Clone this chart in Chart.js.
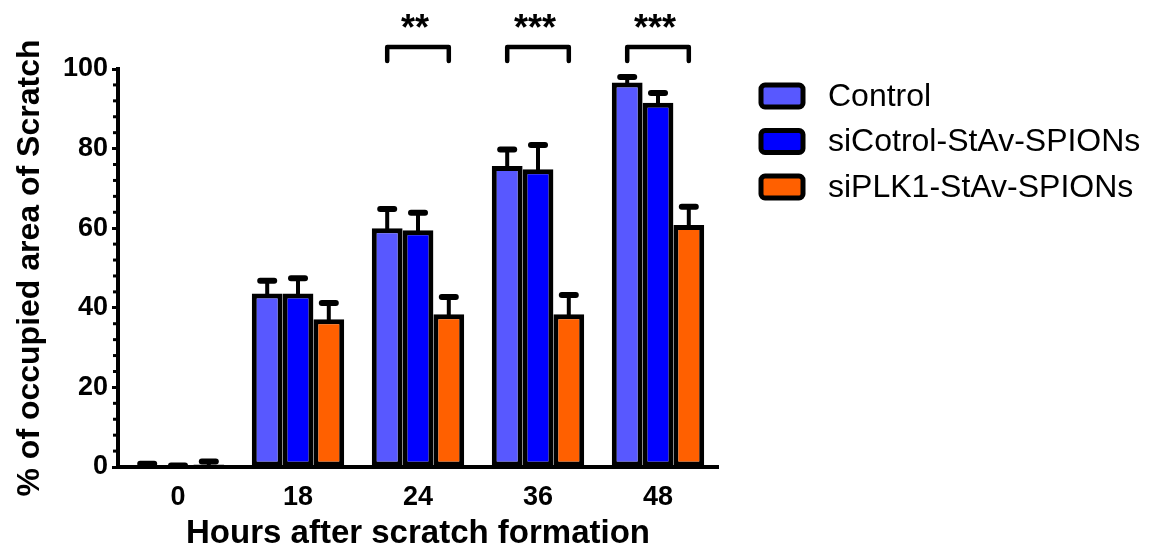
<!DOCTYPE html>
<html>
<head>
<meta charset="utf-8">
<script src="https://cdn.jsdelivr.net/npm/chart.js@4.4.1/dist/chart.umd.min.js"></script>
<style>
  body { margin: 0; background: #fff; }
  #wrap { width: 1161px; height: 551px; position: relative; }
</style>
</head>
<body>
<div id="wrap"><canvas id="scratchChart"></canvas></div>
<script>
// values
const hours = ["0", "18", "24", "36", "48"];
const controlMean = [0.4, 43.6, 60.0, 75.6, 96.6];
const controlErr = [0.4, 3.2, 4.8, 4.2, 1.4];
const siControlMean = [0.2, 43.6, 59.5, 74.8, 91.5];
const siControlErr = [0.15, 3.8, 4.4, 6.1, 2.5];
const siPlkMean = [0.6, 37.1, 38.4, 38.4, 60.8];
const siPlkErr = [0.8, 4.1, 4.3, 4.8, 4.6];
const sigLabels = ["", "", "**", "***", "***"];
const yTicks = [0, 20, 40, 60, 80, 100];

const FONT = "'Liberation Sans', Arial, sans-serif";

// error bars, minor ticks, significance brackets and the legend
const extras = {
  id: "extras",
  afterDatasetsDraw(chart) {
    const ctx = chart.ctx;
    const y = chart.scales.y;
    ctx.save();
    ctx.strokeStyle = "#000";
    ctx.lineCap = "round";
    chart.data.datasets.forEach((ds, i) => {
      const meta = chart.getDatasetMeta(i);
      meta.data.forEach((bar, j) => {
        const top = y.getPixelForValue(ds.data[j] + ds.errors[j]);
        ctx.lineWidth = 4;
        ctx.beginPath();
        ctx.moveTo(bar.x, bar.y);
        ctx.lineTo(bar.x, top);
        ctx.stroke();
        ctx.lineWidth = 6;
        ctx.beginPath();
        ctx.moveTo(bar.x - 7, top);
        ctx.lineTo(bar.x + 7, top);
        ctx.stroke();
      });
    });
    ctx.restore();
  },
  afterDraw(chart) {
    const ctx = chart.ctx;
    const y = chart.scales.y;
    const x0 = chart.chartArea.left;
    ctx.save();
    // minor ticks every 4 units
    ctx.strokeStyle = "#000";
    ctx.lineWidth = 3;
    for (let v = 4; v < 100; v += 4) {
      if (v % 20 === 0) continue;
      const py = y.getPixelForValue(v);
      ctx.beginPath();
      ctx.moveTo(x0 - 5, py);
      ctx.lineTo(x0, py);
      ctx.stroke();
    }
    // brackets
    const first = chart.getDatasetMeta(0);
    const last = chart.getDatasetMeta(2);
    const yTop = y.getPixelForValue(105.5);
    const yLeg = y.getPixelForValue(102.0);
    ctx.lineWidth = 4.5;
    ctx.lineCap = "round";
    ctx.lineJoin = "round";
    ctx.fillStyle = "#000";
    ctx.font = "bold 36px " + FONT;
    ctx.textAlign = "center";
    ctx.textBaseline = "alphabetic";
    sigLabels.forEach((lab, j) => {
      if (!lab) return;
      const xa = first.data[j].x;
      const xb = last.data[j].x;
      ctx.beginPath();
      ctx.moveTo(xa, yLeg);
      ctx.lineTo(xa, yTop);
      ctx.lineTo(xb, yTop);
      ctx.lineTo(xb, yLeg);
      ctx.stroke();
      ctx.fillText(lab, (xa + xb) / 2 - 3, y.getPixelForValue(107.2));
    });
    // legend
    const lx = chart.chartArea.right + 41;
    ctx.font = "32px " + FONT;
    ctx.textAlign = "left";
    ctx.textBaseline = "middle";
    chart.data.datasets.forEach((ds, i) => {
      const cy = 96 + i * 45.5;
      ctx.fillStyle = ds.backgroundColor;
      ctx.beginPath();
      ctx.roundRect(lx + 2, cy - 11, 42, 22, 4);
      ctx.fill();
      ctx.lineWidth = 5;
      ctx.strokeStyle = "#000";
      ctx.stroke();
      ctx.fillStyle = "#000";
      ctx.fillText(ds.label, lx + 69, cy + 1);
    });
    ctx.restore();
  }
};

const ctx = document.getElementById("scratchChart");

const scratchChart = new Chart(ctx, {
  type: "bar",
  data: {
    labels: hours,
    datasets: [
      { label: "Control", data: controlMean, errors: controlErr, backgroundColor: "#5858FF" },
      { label: "siCotrol-StAv-SPIONs", data: siControlMean, errors: siControlErr, backgroundColor: "#0000FF" },
      { label: "siPLK1-StAv-SPIONs", data: siPlkMean, errors: siPlkErr, backgroundColor: "#FF6000" }
    ].map(ds => ({
      ...ds,
      borderColor: "#000",
      borderWidth: 5,
      borderSkipped: false,
      categoryPercentage: 0.77,
      barPercentage: 1
    }))
  },
  options: {
    responsive: true,
    maintainAspectRatio: false,
    animation: false,
    layout: {
      padding: { top: 69, right: 443, bottom: 0, left: 0 }
    },
    plugins: {
      legend: { display: false },
      tooltip: { enabled: false }
    },
    scales: {
      x: {
        grid: { display: false, drawTicks: false },
        border: { display: true, color: "#000", width: 4 },
        ticks: {
          color: "#000",
          padding: 14,
          font: { family: FONT, size: 27, weight: "bold" }
        },
        title: {
          display: true,
          text: "Hours after scratch formation",
          color: "#000",
          padding: { top: 0, bottom: 0 },
          font: { family: FONT, size: 33, weight: "bold", lineHeight: 1.05 }
        },
        afterFit(scale) {
          scale.height = 84;
        }
      },
      y: {
        min: 0,
        max: 100,
        afterBuildTicks(scale) {
          scale.ticks = yTicks.map(v => ({ value: v }));
        },
        grid: {
          drawOnChartArea: false,
          drawTicks: true,
          tickLength: 6,
          tickWidth: 3,
          tickColor: "#000"
        },
        border: { display: true, color: "#000", width: 4 },
        ticks: {
          color: "#000",
          padding: 4,
          font: { family: FONT, size: 27, weight: "bold" }
        },
        title: {
          display: true,
          text: "% of occupied area of Scratch",
          color: "#000",
          padding: { top: 13, bottom: 0 },
          font: { family: FONT, size: 32, weight: "bold", lineHeight: 1.1 }
        },
        afterFit(scale) {
          scale.width = 118;
        }
      }
    }
  },
  plugins: [extras]
});
</script>
</body>
</html>
